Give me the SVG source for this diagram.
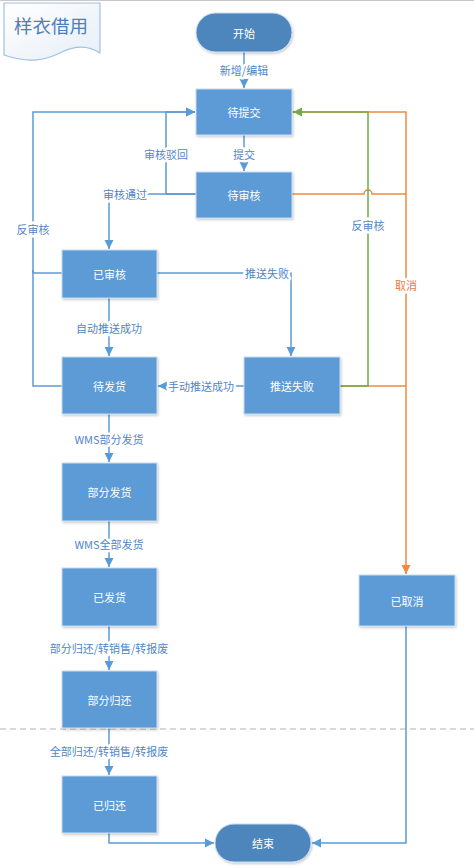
<svg xmlns="http://www.w3.org/2000/svg" width="474" height="868" viewBox="0 0 474 868">
<style>
.box{fill:#5b9bd5;stroke:#c9dcf0;stroke-width:1;filter:url(#sh)}
.pill{fill:#4d86bc;stroke:#c9dcf0;stroke-width:1;filter:url(#sh)}
.nt{font-family:"Noto Sans CJK SC","Noto Sans",sans-serif;font-size:11px;fill:#ffffff;text-anchor:middle;dominant-baseline:central}
.lb{font-family:"Noto Sans CJK SC","Noto Sans",sans-serif;font-size:11px;fill:#4f86c6;text-anchor:middle;dominant-baseline:central;stroke:#ffffff;stroke-width:5;paint-order:stroke;stroke-linejoin:round}
.bl{fill:none;stroke:#5b9bd5;stroke-width:1.5}
.gr{fill:none;stroke:#70ad47;stroke-width:1.5}
.or{fill:none;stroke:#f08a3e;stroke-width:1.5}
</style>
<defs>
<filter id="sh" x="-10%" y="-10%" width="130%" height="130%">
<feDropShadow dx="1" dy="1.5" stdDeviation="1.2" flood-color="#000" flood-opacity="0.2"/>
</filter>
<linearGradient id="tg" x1="0" y1="0" x2="1" y2="1">
<stop offset="0" stop-color="#ffffff"/>
<stop offset="1" stop-color="#e6eef8"/>
</linearGradient>
<marker id="ab" markerUnits="userSpaceOnUse" markerWidth="10" markerHeight="10" refX="9" refY="5" orient="auto"><path d="M0,0.5 L9,5 L0,9.5 Z" fill="#5b9bd5"/></marker>
<marker id="ag" markerUnits="userSpaceOnUse" markerWidth="10" markerHeight="10" refX="9" refY="5" orient="auto"><path d="M0,0.5 L9,5 L0,9.5 Z" fill="#70ad47"/></marker>
<marker id="ao" markerUnits="userSpaceOnUse" markerWidth="10" markerHeight="10" refX="9" refY="5" orient="auto"><path d="M0,0.5 L9,5 L0,9.5 Z" fill="#f08a3e"/></marker>
</defs>
<rect x="0" y="0" width="474" height="868" fill="#ffffff"/>
<line x1="0" y1="0.5" x2="474" y2="0.5" stroke="#c8c8c8" stroke-width="1"/>
<line x1="0" y1="729" x2="474" y2="729" stroke="#cccccc" stroke-width="1.5" stroke-dasharray="6 4"/>

<g id="title">
<path d="M4,3 H100 V53 C88,45 76,45 62,52 C46,60 30,64 4,55 Z" fill="url(#tg)" stroke="#9fc0e4" stroke-width="1.2"/>
<text x="51" y="25" font-family="'Noto Sans CJK SC','Noto Sans',sans-serif" font-size="18.5" fill="#4f7fb8" text-anchor="middle" dominant-baseline="central">样衣借用</text>
</g>

<g id="connectors">
<path class="or" d="M292,112 H406 V574" marker-end="url(#ao)"/>
<path class="or" d="M292,194 H364 A4,4 0 0 1 372,194 H406"/>
<path class="or" d="M340,386 H406"/>
<path class="gr" d="M340,386 H368 V112 H293" marker-end="url(#ag)"/>
<path class="bl" d="M244,52 V88" marker-end="url(#ab)"/>
<path class="bl" d="M244,135 V171" marker-end="url(#ab)"/>
<path class="bl" d="M196,194 H166 V112 H195" marker-end="url(#ab)"/>
<path class="bl" d="M196,194 H109 V249" marker-end="url(#ab)"/>
<path class="bl" d="M62,273 H33 V112 H195" marker-end="url(#ab)"/>
<path class="bl" d="M62,386 H33 V270"/>
<path class="bl" d="M157,273 H291 V356" marker-end="url(#ab)"/>
<path class="bl" d="M109,298 V356" marker-end="url(#ab)"/>
<path class="bl" d="M244,386 H158" marker-end="url(#ab)"/>
<path class="bl" d="M109,414 V462" marker-end="url(#ab)"/>
<path class="bl" d="M109,521 V567" marker-end="url(#ab)"/>
<path class="bl" d="M109,626 V670" marker-end="url(#ab)"/>
<path class="bl" d="M109,728 V775" marker-end="url(#ab)"/>
<path class="bl" d="M109,833 V843 H214" marker-end="url(#ab)"/>
<path class="bl" d="M406,626 V843 H312" marker-end="url(#ab)"/>
<text class="lb" x="244" y="70">新增/编辑</text>
<text class="lb" x="244" y="154">提交</text>
<text class="lb" x="166" y="154">审核驳回</text>
<text class="lb" x="125" y="194">审核通过</text>
<text class="lb" x="33" y="229">反审核</text>
<text class="lb" x="267" y="273">推送失败</text>
<text class="lb" x="109" y="328">自动推送成功</text>
<text class="lb" x="201" y="386">手动推送成功</text>
<text class="lb" x="368" y="225">反审核</text>
<text class="lb" x="406" y="285" style="fill:#e8793b">取消</text>
<text class="lb" x="109" y="439">WMS部分发货</text>
<text class="lb" x="109" y="544">WMS全部发货</text>
<text class="lb" x="109" y="648">部分归还/转销售/转报废</text>
<text class="lb" x="109" y="751">全部归还/转销售/转报废</text>
</g>

<g id="start"><rect class="pill" x="196" y="13" width="96" height="39" rx="19.5"/><text class="nt" x="244" y="32.5">开始</text></g>
<g id="n-daitijiao"><rect class="box" x="196" y="89" width="96" height="46"/><text class="nt" x="244" y="112">待提交</text></g>
<g id="n-daishenhe"><rect class="box" x="196" y="172" width="96" height="46"/><text class="nt" x="244" y="195">待审核</text></g>
<g id="n-yishenhe"><rect class="box" x="62" y="250" width="95" height="48"/><text class="nt" x="109.5" y="274">已审核</text></g>
<g id="n-daifahuo"><rect class="box" x="62" y="357" width="95" height="57"/><text class="nt" x="109.5" y="386">待发货</text></g>
<g id="n-tuisongshibai"><rect class="box" x="244" y="357" width="96" height="57"/><text class="nt" x="292" y="386">推送失败</text></g>
<g id="n-bufenfahuo"><rect class="box" x="62" y="463" width="95" height="58"/><text class="nt" x="109.5" y="492">部分发货</text></g>
<g id="n-yifahuo"><rect class="box" x="62" y="568" width="95" height="58"/><text class="nt" x="109.5" y="597">已发货</text></g>
<g id="n-yiquxiao"><rect class="box" x="359" y="575" width="96" height="51"/><text class="nt" x="407" y="600.5">已取消</text></g>
<g id="n-bufenguihuan"><rect class="box" x="62" y="671" width="95" height="57"/><text class="nt" x="109.5" y="699.5">部分归还</text></g>
<g id="n-yiguihuan"><rect class="box" x="62" y="776" width="95" height="57"/><text class="nt" x="109.5" y="804.5">已归还</text></g>
<g id="end"><rect class="pill" x="215" y="824" width="96" height="38" rx="19"/><text class="nt" x="263" y="843">结束</text></g>
</svg>
